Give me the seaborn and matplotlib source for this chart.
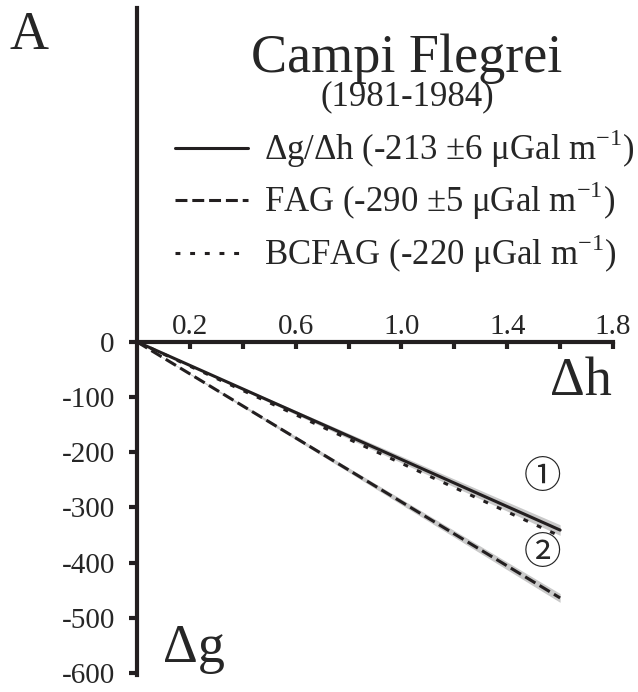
import matplotlib
matplotlib.use("Agg")
import matplotlib.pyplot as plt
import seaborn as sns

# values
dh = [0.0, 1.6]
dg_obs = [0.0, -341.0]      # Δg/Δh, -213 ±6 µGal/m
dg_obs_err = [0.0, 9.6]
dg_fag = [0.0, -464.0]      # FAG, -290 ±5 µGal/m
dg_fag_err = [0.0, 8.0]
dg_bcfag = [0.0, -352.0]    # BCFAG, -220 µGal/m

labels = [
    r"Δg/Δh (-213 ±6 μGal m$^{\mathrm{-1}}$)",
    r"FAG (-290 ±5 μGal m$^{\mathrm{-1}}$)",
    r"BCFAG (-220 μGal m$^{\mathrm{-1}}$)",
]
x_ticks = [0.2, 0.4, 0.6, 0.8, 1.0, 1.2, 1.4, 1.6, 1.8]
x_ticklabels = ["0.2", "", "0.6", "", "1.0", "", "1.4", "", "1.8"]
y_ticks = [0, -100, -200, -300, -400, -500, -600]

sns.set_style("ticks")
plt.rcParams["font.family"] = ["Liberation Serif", "DejaVu Serif"]
plt.rcParams["mathtext.fontset"] = "custom"
plt.rcParams["mathtext.rm"] = "Liberation Serif"
plt.rcParams["axes.unicode_minus"] = False

ink = "#231f20"
band = "#c9c9c9"

fig = plt.figure(figsize=(6.38, 6.92), dpi=100)
ax = fig.add_axes([137 / 638, 19 / 692, 476 / 638, 665 / 692])

lo = [v - e for v, e in zip(dg_obs, dg_obs_err)]
hi = [v + e for v, e in zip(dg_obs, dg_obs_err)]
ax.fill_between(dh, lo, hi, color=band, lw=0, zorder=1)
lo = [v - e for v, e in zip(dg_fag, dg_fag_err)]
hi = [v + e for v, e in zip(dg_fag, dg_fag_err)]
ax.fill_between(dh, lo, hi, color=band, lw=0, zorder=1)

sns.lineplot(x=dh, y=dg_obs, ax=ax, color=ink, lw=2.2, label=labels[0], zorder=3)
sns.lineplot(x=dh, y=dg_fag, ax=ax, color=ink, lw=2.2, label=labels[1],
             linestyle=(0, (3.9, 1.6)), zorder=3)
sns.lineplot(x=dh, y=dg_bcfag, ax=ax, color=ink, lw=2.2, label=labels[2],
             linestyle=(0, (1.6, 3.2)), zorder=3)

ax.set_xlim(0, 1.8)
ax.set_ylim(-600, 605)

for side in ["right", "bottom"]:
    ax.spines[side].set_visible(False)
ax.spines["top"].set_position(("data", 0))
ax.spines["top"].set_linewidth(3)
ax.spines["left"].set_linewidth(3)
ax.spines["top"].set_color(ink)
ax.spines["left"].set_color(ink)
ax.spines["left"].set_bounds(-603, 605)

ax.xaxis.set_ticks_position("top")
ax.set_xticks(x_ticks)
ax.set_xticklabels(x_ticklabels)
ax.tick_params(axis="x", direction="in", length=5, width=3, color=ink,
               labelsize=21, pad=1)
ax.set_yticks(y_ticks)
ax.set_yticklabels([str(v) for v in y_ticks])
ax.tick_params(axis="y", direction="out", length=6, width=3, color=ink,
               labelsize=21, pad=10)
ax.set_xlabel("")
ax.set_ylabel("")

leg = ax.legend(
    loc="upper left",
    bbox_to_anchor=(175 / 638, 1 - 127 / 692),
    bbox_transform=fig.transFigure,
    frameon=False,
    fontsize=25,
    handlelength=2.1,
    handletextpad=0.45,
    labelspacing=0.28,
    borderpad=0,
    borderaxespad=0,
)
for line in leg.get_lines():
    line.set_linewidth(2.2)

fig.text(10 / 638, 1 - 49 / 692, "A", fontsize=39, ha="left", va="baseline")
fig.text(407 / 638, 1 - 72 / 692, "Campi Flegrei", fontsize=39, ha="center", va="baseline")
fig.text(407 / 638, 1 - 105 / 692, "(1981-1984)", fontsize=25, ha="center", va="baseline")
fig.text(612 / 638, 1 - 395 / 692, "Δh", fontsize=39, ha="right", va="baseline")
fig.text(163 / 638, 1 - 662 / 692, "Δg", fontsize=39, ha="left", va="baseline")

circ_font = ["Noto Sans CJK JP", "DejaVu Sans"]
ax.text(1.535, -245, "①", fontsize=27, ha="center", va="center", family=circ_font)
ax.text(1.535, -384, "②", fontsize=27, ha="center", va="center", family=circ_font)

fig.savefig("out.png", dpi=100)
